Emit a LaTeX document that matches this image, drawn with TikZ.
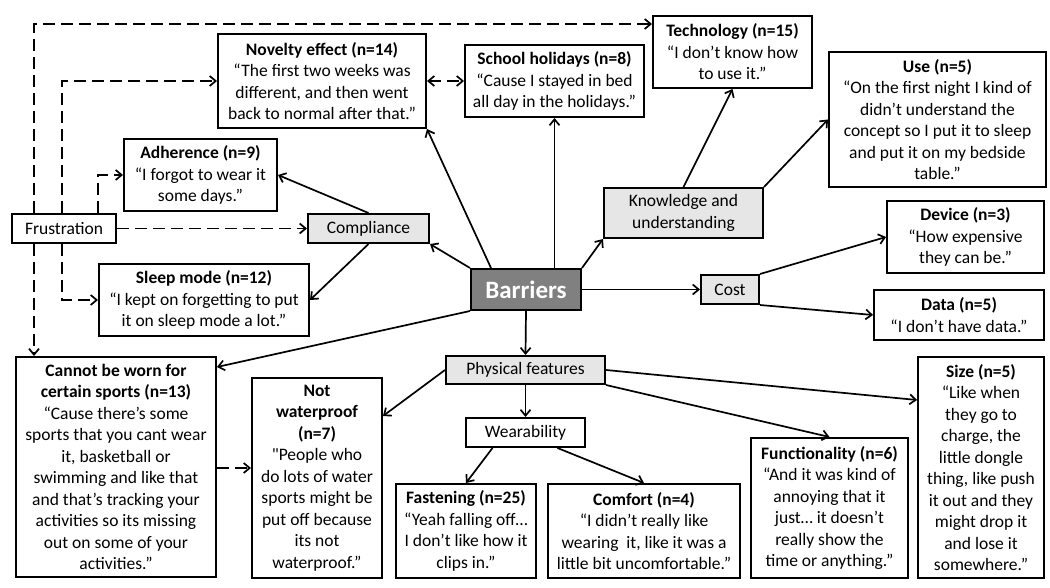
\documentclass[tikz,border=0pt]{standalone}
\usepackage{fontspec}
\setmainfont{Carlito}[Ligatures=TeXOff]
\usetikzlibrary{positioning, arrows.meta}
\definecolor{themefill}{RGB}{230,230,230}
\definecolor{corefill}{RGB}{128,128,128}

\begin{document}
\begin{tikzpicture}[x=1pt, y=-1pt,
    quote/.style={draw, line width=2pt, fill=white, align=center, inner sep=0pt, font=\fontsize{17.5}{21.5}\selectfont},
    theme/.style={quote, fill=themefill},
    core/.style={draw, line width=2pt, fill=corefill, text=white, inner sep=0pt, font=\fontsize{25}{30}\selectfont\bfseries},
    link/.style={line width=1.7pt, -{Straight Barb[length=6pt, width=10pt]}},
    dlink/.style={link, dash pattern=on 12pt off 6pt}]
    \useasboundingbox (0,0) rectangle (1050,588);

    \node (Tech) [quote, minimum width=159pt, minimum height=72pt] at (732.5,52) {\textbf{Technology (n=15)}\\“I don’t know how\\to use it.”};
    \node (Novelty) [quote, minimum width=208pt, minimum height=94pt] at (322,81) {\textbf{Novelty effect (n=14)}\\“The first two weeks was\\different, and then went\\back to normal after that.”};
    \node (School) [quote, minimum width=179pt, minimum height=72pt] at (554.5,81) {\textbf{School holidays (n=8)}\\“Cause I stayed in bed\\all day in the holidays.”};
    \node (Use) [quote, minimum width=217pt, minimum height=135pt] at (937.5,119.5) {\textbf{Use (n=5)}\\“On the first night I kind of\\didn’t understand the\\concept so I put it to sleep\\and put it on my bedside\\table.”};
    \node (Adherence) [quote, minimum width=153pt, minimum height=72pt] at (200.5,175) {\textbf{Adherence (n=9)}\\“I forgot to wear it\\some days.”};
    \node (Knowledge) [theme, minimum width=159pt, minimum height=50pt] at (683.5,213) {Knowledge and\\understanding};
    \node (Frustration) [quote, minimum width=104pt, minimum height=29pt] at (64,228.5) {Frustration};
    \node (Compliance) [theme, minimum width=121pt, minimum height=29pt] at (368.5,228.5) {Compliance};
    \node (Device) [quote, minimum width=157pt, minimum height=72pt] at (965.5,237) {\textbf{Device (n=3)}\\“How expensive\\they can be.”};
    \node (Sleep) [quote, minimum width=210pt, minimum height=72pt] at (204,300) {\textbf{Sleep mode (n=12)}\\“I kept on forgetting to put\\it on sleep mode a lot.”};
    \node (Barriers) [core, minimum width=110pt, minimum height=41pt] at (526,289.5) {Barriers};
    \node (Cost) [theme, minimum width=58pt, minimum height=29pt] at (730,289.5) {Cost};
    \node (Data) [quote, minimum width=170pt, minimum height=50pt] at (959,315) {\textbf{Data (n=5)}\\“I don’t have data.”};
    \node (Sports) [quote, minimum width=200pt, minimum height=220pt] at (116,467) {\textbf{Cannot be worn for}\\\textbf{certain sports (n=13)}\\“Cause there’s some\\sports that you cant wear\\it, basketball or\\swimming and like that\\and that’s tracking your\\activities so its missing\\out on some of your\\activities.”};
    \node (Water) [quote, minimum width=130pt, minimum height=200pt] at (317,478) {\textbf{Not}\\\textbf{waterproof}\\\textbf{(n=7)}\\"People who\\do lots of water\\sports might be\\put off because\\its not\\waterproof.”};
    \node (Physical) [theme, minimum width=159pt, minimum height=28pt] at (525.5,370) {Physical features};
    \node (Size) [quote, minimum width=126pt, minimum height=221pt] at (981,467.5) {\textbf{Size (n=5)}\\“Like when\\they go to\\charge, the\\little dongle\\thing, like push\\it out and they\\might drop it\\and lose it\\somewhere.”};
    \node (Wear) [quote, minimum width=119pt, minimum height=29pt] at (525.5,432.5) {Wearability};
    \node (Function) [quote, minimum width=157pt, minimum height=140pt] at (829.5,508) {\textbf{Functionality (n=6)}\\“And it was kind of\\annoying that it\\just… it doesn’t\\really show the\\time or anything.”};
    \node (Fasten) [quote, minimum width=140pt, minimum height=94pt] at (466,531) {\textbf{Fastening (n=25)}\\“Yeah falling off…\\I don’t like how it\\clips in.”};
    \node (Comfort) [quote, minimum width=192pt, minimum height=94pt] at (644,531) {\textbf{Comfort (n=4)}\\“I didn’t really like\\wearing\ \ it, like it was a\\little bit uncomfortable.”};

    \draw [link] (Barriers.north west) -- (Compliance.south east);
    \draw [link] ([xshift=21pt]Barriers.north west) -- (Novelty.south east);
    \draw [link] (School.south |- Barriers.north) -- (School.south);
    \draw [link] (Barriers.north east) -- (Knowledge.south west);
    \draw [link] (Barriers.east) -- (Cost.west);
    \draw [link] (Barriers.south) -- (Physical.north);
    \draw [link] (Barriers.south west) -- ([yshift=-11pt]Sports.north east);
    \draw [link] (Compliance.north) -- (Adherence.east);
    \draw [link] (Compliance.south) -- (Sleep.east);
    \draw [link] (Knowledge.north) -- (Tech.south);
    \draw [link] (Knowledge.north east) -- (Use.west);
    \draw [link] (Cost.north east) -- (Device.west);
    \draw [link] (Cost.south east) -- (Data.west);
    \draw [link] (Physical.west) -- ([yshift=-39pt]Water.north east);
    \draw [link] (Physical.south) -- (Wear.north);
    \draw [link] (Physical.south east) -- (Function.north);
    \draw [link] (Physical.east) -- ([yshift=-44pt]Size.north west);
    \draw [link] ([xshift=-33pt]Wear.south) -- (Fasten.north);
    \draw [link] ([xshift=32pt]Wear.south) -- (Comfort.north);

    \coordinate (F1) at ([xshift=23pt]Frustration.north west);
    \coordinate (F2) at ([xshift=51pt]Frustration.north west);
    \coordinate (F3) at ([xshift=87pt]Frustration.north west);
    \coordinate (F4) at ([xshift=23pt]Frustration.south west);
    \coordinate (F5) at ([xshift=51pt]Frustration.south west);
    \draw [dlink] (Frustration.east) -- (Compliance.west);
    \draw [dlink] (F1) |- ([yshift=-9pt]Tech.north west);
    \draw [dlink] (F2) |- (Novelty.west);
    \draw [dlink] (F3) |- (Adherence.west);
    \draw [dlink] (F4) -- (F4 |- Sports.north);
    \draw [dlink] (F5) |- (Sleep.west);
    \draw [dlink, {Straight Barb[length=6pt, width=10pt]}-{Straight Barb[length=6pt, width=10pt]}] (Novelty.east) -- (School.west);
    \draw [dlink] (Sports.east |- 0,468) -- (Water.west |- 0,468);
\end{tikzpicture}
\end{document}
